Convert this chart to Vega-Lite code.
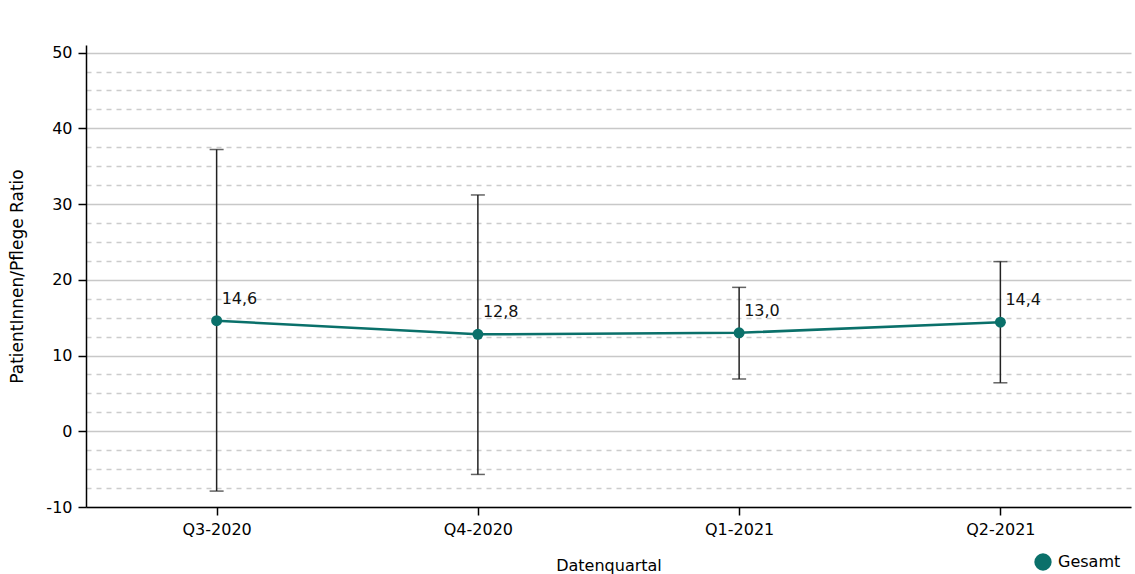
{
  "$schema": "https://vega.github.io/schema/vega-lite/v6.json",
  "width": 1045,
  "height": 462,
  "autosize": {"type": "none"},
  "padding": {"left": 86, "top": 45, "right": 4, "bottom": 67},
  "background": "white",
  "config": {
    "view": {"stroke": null},
    "font": "DejaVu Sans",
    "locale": {"number": {"decimal": ",", "thousands": ".", "grouping": [3], "currency": ["", " €"], "minus": "-"}}
  },
  "data": {
    "values": [
      {"quartal": "Q3-2020", "wert": 14.6, "unten": -7.9, "oben": 37.2, "gruppe": "Gesamt"},
      {"quartal": "Q4-2020", "wert": 12.8, "unten": -5.7, "oben": 31.2, "gruppe": "Gesamt"},
      {"quartal": "Q1-2021", "wert": 13.0, "unten": 6.9, "oben": 19.0, "gruppe": "Gesamt"},
      {"quartal": "Q2-2021", "wert": 14.4, "unten": 6.4, "oben": 22.4, "gruppe": "Gesamt"}
    ]
  },
  "encoding": {
    "x": {
      "field": "quartal",
      "type": "ordinal",
      "sort": null,
      "scale": {"type": "point", "padding": 0.5},
      "axis": {
        "title": "Datenquartal",
        "labelAngle": 0,
        "labelFontSize": 16,
        "labelColor": "#000",
        "titleFontSize": 16,
        "titleFontWeight": "normal",
        "titleColor": "#000",
        "domainColor": "#000",
        "domainWidth": 1.5,
        "tickColor": "#000",
        "tickWidth": 1.5,
        "tickSize": 8,
        "labelPadding": 6,
        "titlePadding": 20,
        "grid": false
      }
    }
  },
  "resolve": {"axis": {"y": "independent"}},
  "layer": [
    {
      "mark": {"type": "tick", "color": "#222", "size": 14, "thickness": 1.5, "orient": "horizontal"},
      "encoding": {
        "y": {
          "field": "oben",
          "type": "quantitative",
          "scale": {"domain": [-10, 51], "nice": false, "zero": false},
          "axis": {
            "orient": "left",
            "title": null,
            "values": [-7.5, -5, -2.5, 2.5, 5, 7.5, 12.5, 15, 17.5, 22.5, 25, 27.5, 32.5, 35, 37.5, 42.5, 45, 47.5],
            "labels": false,
            "ticks": false,
            "domain": false,
            "grid": true,
            "gridDash": [5, 5],
            "gridColor": "#cccccc",
            "gridWidth": 1.5
          }
        }
      }
    },
    {
      "mark": {"type": "rule", "color": "#222", "strokeWidth": 1.5},
      "encoding": {
        "y": {
          "field": "unten",
          "type": "quantitative",
          "scale": {"domain": [-10, 51], "nice": false, "zero": false},
          "axis": {
            "orient": "left",
            "title": "PatientInnen/Pflege Ratio",
            "values": [-10, 0, 10, 20, 30, 40, 50],
            "grid": true,
            "gridColor": "#c8c8c8",
            "gridWidth": 1.5,
            "domainColor": "#000",
            "domainWidth": 1.5,
            "tickColor": "#000",
            "tickWidth": 1.5,
            "tickSize": 8,
            "labelFontSize": 16,
            "labelColor": "#000",
            "labelPadding": 6,
            "titleFontSize": 17,
            "titleFontWeight": "normal",
            "titleColor": "#000",
            "titlePadding": 19
          }
        },
        "y2": {"field": "oben"}
      }
    },
    {
      "mark": {"type": "tick", "color": "#222", "size": 14, "thickness": 1.5, "orient": "horizontal"},
      "encoding": {"y": {"field": "unten", "type": "quantitative", "axis": null}}
    },
    {
      "mark": {"type": "line", "color": "#0a706a", "strokeWidth": 2.5},
      "encoding": {"y": {"field": "wert", "type": "quantitative", "axis": null}}
    },
    {
      "mark": {"type": "point", "filled": true, "size": 120, "opacity": 1},
      "encoding": {
        "y": {"field": "wert", "type": "quantitative", "axis": null},
        "color": {
          "field": "gruppe",
          "type": "nominal",
          "scale": {"range": ["#0a706a"]},
          "legend": {
            "title": null,
            "orient": "none",
            "legendX": 948,
            "legendY": 508,
            "padding": 0,
            "symbolSize": 300,
            "symbolType": "circle",
            "symbolStrokeWidth": 0,
            "labelFontSize": 16,
            "labelColor": "#000",
            "labelOffset": 6
          }
        }
      }
    },
    {
      "mark": {"type": "text", "align": "left", "baseline": "middle", "dx": 5, "dy": -22, "fontSize": 16, "color": "#111"},
      "encoding": {
        "y": {"field": "wert", "type": "quantitative", "axis": null},
        "text": {"field": "wert", "type": "quantitative", "format": ".1f"}
      }
    }
  ]
}
